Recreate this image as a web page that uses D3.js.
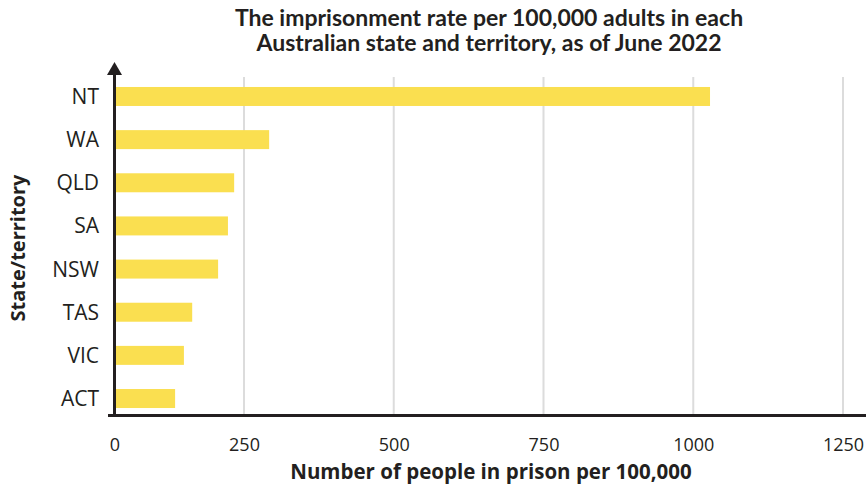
<!DOCTYPE html>
<html>
<head>
<meta charset="utf-8">
<script src="https://cdn.jsdelivr.net/npm/d3@7"></script>
<style>
  html, body { margin: 0; padding: 0; background: #fff; }
  svg { display: block; }
  text { font-family: "Open Sans", Lato, sans-serif; fill: #231f20; }
  text.title { font-family: Lato, "Open Sans", sans-serif; }
</style>
</head>
<body>
<svg id="chart" width="866" height="488"></svg>
<script>
// Imprisonment rate per 100,000 adults, June 2022
const states = ["NT", "WA", "QLD", "SA", "NSW", "TAS", "VIC", "ACT"];
const rates = [1028, 292, 231, 219, 200, 150, 134, 117];
const xTicks = [0, 250, 500, 750, 1000, 1250];
const titleLines = [
  "The imprisonment rate per 100,000 adults in each",
  "Australian state and territory, as of June 2022"
];
const xTitle = "Number of people in prison per 100,000";
const yTitle = "State/territory";

const W = 866, H = 488;
const axisX = 114.5, axisY = 415.5;
const svg = d3.select("#chart");

// The first interval (0–250) is drawn a little narrower than the rest
const x = d3.scaleLinear().domain([0, 250, 1250]).range([axisX, 244, 843]);
const y = d3.scaleBand().domain(states).range([74.9, 420.1])
  .paddingInner(0.56).paddingOuter(0.28);

// Vertical gridlines
svg.append("g").selectAll("line")
  .data(xTicks.filter(d => d > 0))
  .join("line")
  .attr("x1", d => x(d)).attr("x2", d => x(d))
  .attr("y1", 77).attr("y2", axisY)
  .attr("stroke", "#dcdcdc").attr("stroke-width", 2);

// Bars
svg.append("g").selectAll("rect")
  .data(states.map((s, i) => ({ s, v: rates[i] })))
  .join("rect")
  .attr("x", x(0))
  .attr("y", d => y(d.s))
  .attr("width", d => x(d.v) - x(0))
  .attr("height", y.bandwidth())
  .attr("fill", "#fadf50");

// Axis lines
svg.append("line")
  .attr("x1", 108).attr("x2", W)
  .attr("y1", axisY).attr("y2", axisY)
  .attr("stroke", "#231f20").attr("stroke-width", 3);
svg.append("line")
  .attr("x1", axisX).attr("x2", axisX)
  .attr("y1", 70).attr("y2", axisY + 1.5)
  .attr("stroke", "#231f20").attr("stroke-width", 3);
svg.append("path")
  .attr("d", `M${axisX},62 L${axisX + 7.5},75 L${axisX - 7.5},75 Z`)
  .attr("fill", "#231f20");

// X tick labels
const xAxis = d3.axisBottom(x).tickValues(xTicks).tickSize(0).tickPadding(0)
  .tickFormat(d3.format("d"));
const gx = svg.append("g").attr("transform", `translate(0,${axisY})`).call(xAxis);
gx.select(".domain").remove();
gx.selectAll("text")
  .attr("y", 35).attr("dy", 0)
  .style("font-family", "'Open Sans', Lato, sans-serif")
  .style("font-size", "18px").style("fill", "#231f20");

// Y tick labels
const yAxis = d3.axisLeft(y).tickSize(0).tickPadding(0);
const gy = svg.append("g").attr("transform", `translate(99,0)`).call(yAxis);
gy.select(".domain").remove();
gy.selectAll("text")
  .attr("x", 0).attr("dy", "0.36em")
  .style("font-family", "'Open Sans', Lato, sans-serif")
  .style("font-size", "21px").style("fill", "#231f20");

// Title
svg.append("text")
  .attr("class", "title")
  .attr("text-anchor", "middle")
  .attr("font-weight", "bold").attr("font-size", 23)
  .selectAll("tspan").data(titleLines).join("tspan")
  .attr("x", 489).attr("y", (d, i) => 26 + i * 24.5)
  .text(d => d);

// Axis titles
svg.append("text")
  .attr("x", 491).attr("y", 479)
  .attr("text-anchor", "middle")
  .attr("font-weight", "bold").attr("font-size", 20.5)
  .text(xTitle);

svg.append("text")
  .attr("transform", "translate(25,248) rotate(-90)")
  .attr("text-anchor", "middle")
  .attr("font-weight", "bold").attr("font-size", 20)
  .text(yTitle);
</script>
</body>
</html>
